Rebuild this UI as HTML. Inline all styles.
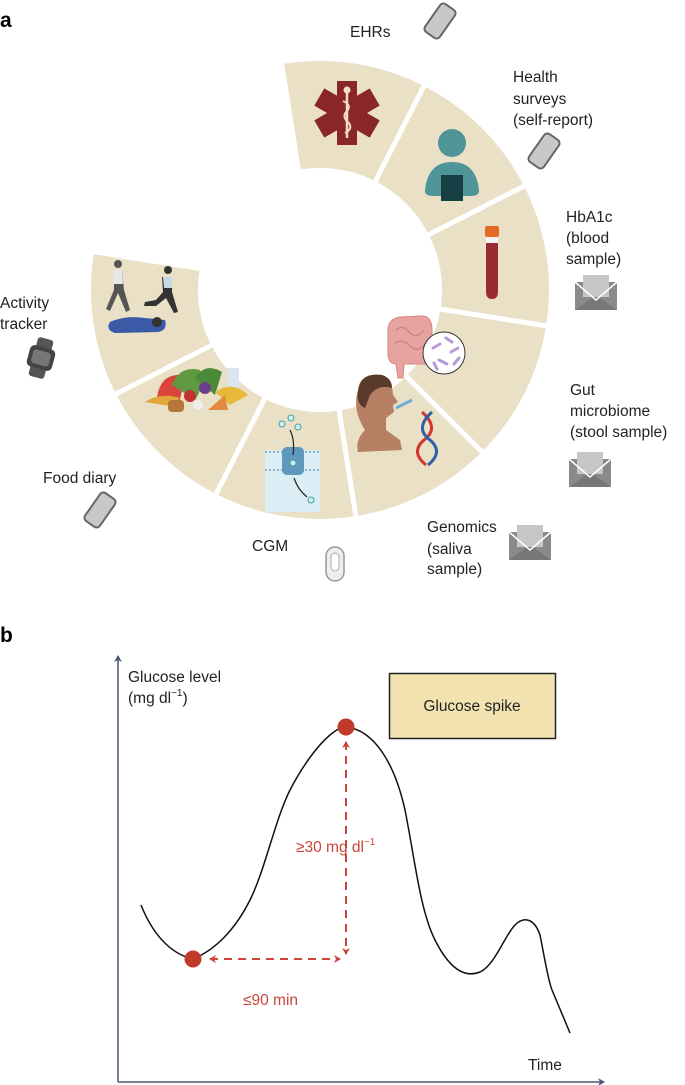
<!DOCTYPE html>
<html><head><meta charset="utf-8"><style>
html,body{margin:0;padding:0;background:#fff;}
svg{display:block;font-family:"Liberation Sans",sans-serif;}
</style></head><body>
<svg width="685" height="1085" viewBox="0 0 685 1085" xmlns="http://www.w3.org/2000/svg">
<defs>
<marker id="ar" markerWidth="8" markerHeight="8" refX="6" refY="4" orient="auto-start-reverse" markerUnits="userSpaceOnUse"><path d="M0,0 L7,4 L0,8 L2,4 Z" fill="#c9463d"/></marker>
<marker id="ax" markerWidth="8" markerHeight="8" refX="6" refY="4" orient="auto" markerUnits="userSpaceOnUse"><path d="M0,0 L7,4 L0,8 L2,4 Z" fill="#4a5a70"/></marker>
<g id="phone"><rect x="-9" y="-17" width="18" height="34" rx="4" fill="#c8c8c8" stroke="#666" stroke-width="2"/></g>
<g id="env"><rect x="-21" y="-13" width="42" height="28" fill="#8a8a8a"/><path d="M-21,15 L0,0 L21,15 Z" fill="#777"/><rect x="-13" y="-20" width="26" height="22" fill="#c6c6c6"/><path d="M-21,-13 L0,5 L21,-13" fill="none" stroke="#fff" stroke-width="1.5"/></g>
</defs>

<text x="0" y="27" font-size="21" font-weight="bold">a</text>

<path d="M284.2 63.8 A229 229 0 1 1 93.8 254.2 L199.5 270.9 A122 122 0 1 0 300.9 169.5 Z" fill="#e9e0c5"/>
<g stroke="#fff" stroke-width="5">
<line x1="372.2" y1="187.5" x2="426.7" y2="80.6"/>
<line x1="422.5" y1="237.8" x2="529.4" y2="183.3"/>
<line x1="433.6" y1="308.0" x2="552.1" y2="326.8"/>
<line x1="401.3" y1="371.3" x2="486.2" y2="456.2"/>
<line x1="338.0" y1="403.6" x2="356.8" y2="522.1"/>
<line x1="267.8" y1="392.5" x2="213.3" y2="499.4"/>
<line x1="217.5" y1="342.2" x2="110.6" y2="396.7"/>
</g>

<g transform="translate(347,113)" fill="#8b2626">
<rect x="-10" y="-32" width="20" height="64"/>
<rect x="-10" y="-32" width="20" height="64" transform="rotate(60)"/>
<rect x="-10" y="-32" width="20" height="64" transform="rotate(-60)"/>
<line x1="0" y1="-22" x2="0" y2="25" stroke="#f1dcc8" stroke-width="2.5"/>
<circle cx="0" cy="-23" r="3.5" fill="#f1dcc8"/>
<path d="M-4,-12 Q5,-8 0,-2 Q-6,4 2,10 Q6,16 -2,20" fill="none" stroke="#f1dcc8" stroke-width="2"/>
</g>

<g fill="#4f9598">
<circle cx="452" cy="143" r="14"/>
<path d="M425,190 Q428,162 452,162 Q476,162 479,190 Q480,196 470,196 L434,196 Q424,196 425,190 Z"/>
</g>
<rect x="441" y="175" width="22" height="26" fill="#163f44"/>

<rect x="485" y="226" width="14" height="11" rx="2" fill="#e46a25"/>
<rect x="486" y="237" width="12" height="6" fill="#f2f2f2"/>
<path d="M486,243 L498,243 L498,292 Q498,299 492,299 Q486,299 486,292 Z" fill="#9b2b33"/>

<g fill="#e7a3a0" stroke="#d68783" stroke-width="1">
<path d="M432,330 Q432,315 420,316 L400,317 Q388,319 388,330 L388,355 Q389,364 396,364 L398,378 L403,378 L404,364 L425,364 Q432,360 432,340 Z"/>
</g>
<g stroke="#cf7e7b" stroke-width="1.2" fill="none"><path d="M396,330 Q403,324 409,332 Q416,340 424,330 M395,343 Q403,338 411,347 Q418,353 426,343"/></g>
<circle cx="444" cy="353" r="21" fill="#fff" stroke="#333" stroke-width="1"/>
<g stroke="#b89ad6" stroke-width="3" stroke-linecap="round"><line x1="433" y1="348" x2="440" y2="344"/><line x1="446" y1="338" x2="452" y2="342"/><line x1="439" y1="360" x2="447" y2="364"/><line x1="451" y1="352" x2="458" y2="348"/><line x1="434" y1="363" x2="437" y2="369"/><line x1="454" y1="364" x2="459" y2="358"/></g>

<path d="M358,390 Q360,372 382,375 Q392,378 393,395 L398,402 L393,405 L394,412 L386,418 L386,430 L400,440 L402,450 L358,452 Q355,440 365,430 Q352,410 358,390 Z" fill="#b77f64"/>
<path d="M358,392 Q360,372 382,375 Q392,378 392,388 Q378,384 370,395 L365,408 Q356,404 358,392 Z" fill="#5a3a2a"/>
<line x1="396" y1="408" x2="412" y2="400" stroke="#6aaed6" stroke-width="3"/>
<g fill="none" stroke-width="3"><path d="M422,412 Q440,428 424,440 Q410,452 426,465" stroke="#d0362d"/><path d="M432,412 Q414,428 430,440 Q444,452 428,465" stroke="#2f5fa8"/></g>

<rect x="265" y="450" width="55" height="62" fill="#dceef5"/>
<g stroke="#8fb7cf" stroke-width="2" stroke-dasharray="2 2"><line x1="265" y1="452" x2="320" y2="452"/><line x1="265" y1="470" x2="320" y2="470"/></g>
<rect x="282" y="447" width="22" height="28" rx="5" fill="#5e98bd"/>
<circle cx="293" cy="463" r="3" fill="#cdeff0" stroke="#4a9fa0"/>
<g fill="#cdeff0" stroke="#4a9fa0"><circle cx="282" cy="424" r="3"/><circle cx="291" cy="418" r="3"/><circle cx="298" cy="427" r="3"/><circle cx="311" cy="500" r="3"/></g>
<path d="M290,430 Q295,440 293,455 M294,478 Q298,490 307,497" fill="none" stroke="#222" stroke-width="1.2"/>

<path d="M157,398 Q160,372 185,375 L180,400 Z" fill="#d9453b"/>
<path d="M172,385 Q180,365 200,370 Q205,385 195,400 Z" fill="#5f9a43"/>
<path d="M195,378 Q205,362 222,372 L215,395 Z" fill="#4c8a3a"/>
<rect x="227" y="368" width="12" height="20" fill="#d9e6f0"/>
<path d="M215,392 Q232,380 248,395 L230,405 Z" fill="#e8b83b"/>
<path d="M145,402 Q160,392 180,398 L170,406 Z" fill="#e3a63a"/>
<rect x="168" y="400" width="16" height="12" rx="4" fill="#b7773a"/>
<circle cx="190" cy="396" r="6" fill="#c23232"/>
<circle cx="205" cy="388" r="6" fill="#6d3d8d"/>
<circle cx="198" cy="405" r="5" fill="#eee"/>
<path d="M208,410 L225,395 L228,410 Z" fill="#e28a3e"/>

<g fill="#555"><circle cx="118" cy="264" r="4"/><path d="M114,270 L122,270 L124,290 L130,310 L126,312 L118,293 L110,311 L106,309 L114,290 Z"/></g>
<path d="M114,270 L122,270 L123,284 L113,284 Z" fill="#e8e8e8"/>
<g fill="#333"><circle cx="168" cy="270" r="4"/><path d="M162,277 L172,277 L172,292 L178,312 L174,313 L166,298 L156,306 L144,306 L145,302 L156,300 L163,292 Z"/></g>
<path d="M163,277 L172,277 L172,288 L164,288 Z" fill="#c9d9e6"/>
<path d="M110,322 Q125,315 145,318 L165,320 Q168,330 158,332 L115,333 Q105,330 110,322 Z" fill="#3a5aa8"/>
<circle cx="157" cy="322" r="5" fill="#333"/>

<g font-size="15.5" fill="#222">
<text x="350" y="37">EHRs</text>
<text x="513" y="82">Health</text><text x="513" y="104">surveys</text><text x="513" y="125">(self-report)</text>
<text x="566" y="222">HbA1c</text><text x="566" y="243">(blood</text><text x="566" y="264">sample)</text>
<text x="570" y="395">Gut</text><text x="570" y="416">microbiome</text><text x="570" y="437">(stool sample)</text>
<text x="427" y="532">Genomics</text><text x="427" y="554">(saliva</text><text x="427" y="574">sample)</text>
<text x="252" y="551">CGM</text>
<text x="43" y="483">Food diary</text>
<text x="0" y="308">Activity</text><text x="0" y="329">tracker</text>
</g>
<use href="#phone" transform="translate(440,21) rotate(35)"/>
<use href="#phone" transform="translate(544,151) rotate(35)"/>
<use href="#phone" transform="translate(100,510) rotate(35)"/>
<use href="#env" transform="translate(596,295)"/>
<use href="#env" transform="translate(590,472)"/>
<use href="#env" transform="translate(530,545)"/>
<g transform="translate(41,358) rotate(15)"><rect x="-8" y="-20" width="16" height="40" rx="3" fill="#555"/><rect x="-13" y="-11" width="26" height="22" rx="5" fill="#444"/><rect x="-9" y="-7" width="18" height="14" rx="3" fill="#777"/></g>
<rect x="326" y="547" width="18" height="34" rx="9" fill="#eee" stroke="#999" stroke-width="1.5"/>
<rect x="331" y="553" width="8" height="18" rx="4" fill="#fff" stroke="#aaa"/>

<text x="0" y="642" font-size="21" font-weight="bold">b</text>
<line x1="118" y1="1082" x2="118" y2="656" stroke="#4a5a70" stroke-width="1.5" marker-end="url(#ax)"/>
<line x1="118" y1="1082" x2="604" y2="1082" stroke="#4a5a70" stroke-width="1.5" marker-end="url(#ax)"/>
<g font-size="15.5" fill="#222">
<text x="128" y="682">Glucose level</text>
<text x="128" y="703">(mg dl<tspan font-size="10" dy="-7">−1</tspan><tspan dy="7">)</tspan></text>
<text x="528" y="1070">Time</text>
</g>
<rect x="389.5" y="673.5" width="166" height="65" fill="#f2e3b0" stroke="#222" stroke-width="1.5"/>
<text x="472" y="711" font-size="15.5" text-anchor="middle" fill="#222">Glucose spike</text>
<path d="M141,905 C155,940 175,955 193,959 C215,950 235,930 250,900 C265,870 275,820 290,790 C303,765 318,745 330,735 C337,729 342,727 346,727 C375,730 395,765 405,810 C415,860 420,910 435,940 C450,970 465,978 480,972 C495,965 505,935 515,925 C525,915 535,920 540,935 C545,960 548,980 552,990 L570,1033" fill="none" stroke="#111" stroke-width="1.5"/>
<line x1="210" y1="959" x2="340" y2="959" stroke="#c9463d" stroke-width="2" stroke-dasharray="8 6" marker-start="url(#ar)" marker-end="url(#ar)"/>
<line x1="346" y1="742" x2="346" y2="954" stroke="#c9463d" stroke-width="2" stroke-dasharray="8 6" marker-start="url(#ar)" marker-end="url(#ar)"/>
<circle cx="193" cy="959" r="8.5" fill="#c0392b"/>
<circle cx="346" cy="727" r="8.5" fill="#c0392b"/>
<g font-size="15.5" fill="#c9463d">
<text x="296" y="852">≥30 mg dl<tspan font-size="10" dy="-7">−1</tspan></text>
<text x="243" y="1005">≤90 min</text>
</g>
</svg>
</body></html>
